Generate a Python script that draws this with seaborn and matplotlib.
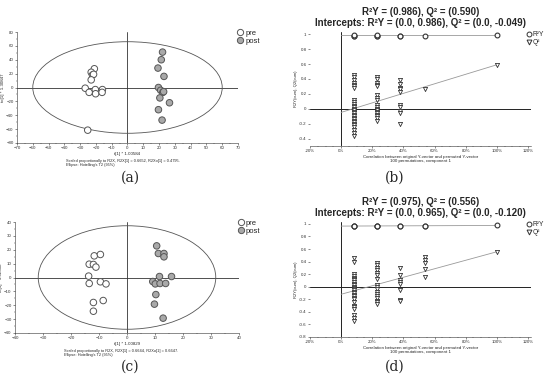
import numpy as np
import pandas as pd
import matplotlib
matplotlib.use("Agg")
import matplotlib.pyplot as plt
from matplotlib.patches import Ellipse
from matplotlib.lines import Line2D
from matplotlib.ticker import AutoMinorLocator, FuncFormatter
import seaborn as sns

# -----------------------------
# Data: OPLS-DA score plots
# -----------------------------
a_pre_x = [-21.0, -23.0, -22.2, -21.5, -23.0, -26.8, -24.3, -20.4, -20.2, -15.9, -16.1, -25.2]
a_pre_y = [27, 22, 18, 19, 11, -1, -7, -3, -9, -3, -7, -61.5]
a_post_x = [22.2, 21.4, 19.3, 23.1, 19.6, 21.0, 22.4, 22.9, 20.5, 26.6, 19.6, 21.9]
a_post_y = [51, 40, 28, 16, 0, -4, -7, -6, -15, -22, -32, -47]
a_ellipse = (60, 66)   # Hotelling T2 semi axes

c_pre_x = [-11.7, -9.5, -13.5, -12.0, -11.1, -13.7, -13.5, -9.5, -7.5, -12.0, -8.5, -12.0]
c_pre_y = [15.6, 16.6, 9.6, 9.4, 7.5, 1.0, -4.3, -3.1, -4.6, -18.0, -16.6, -24.3]
c_post_x = [10.6, 11.2, 13.2, 13.2, 11.6, 15.9, 9.2, 10.1, 11.8, 13.8, 10.3, 9.8, 12.9]
c_post_y = [22.8, 17.3, 17.3, 14.9, 0.7, 0.7, -2.9, -4.6, -4.3, -4.3, -12.3, -19.2, -29.3]
c_ellipse = (31.7, 37.3)

# -----------------------------
# Data: permutation tests
# -----------------------------
b_r2y = {0.08: [0.975, 0.98, 0.985], 0.23: [0.975, 0.98, 0.985], 0.38: [0.975, 0.98],
         0.54: [0.98], 1.0: [0.986]}
b_q2 = {0.08: [0.45, 0.42, 0.38, 0.35, 0.32, 0.30, 0.28, 0.12, 0.09, 0.06, 0.04, 0.02, 0.0,
               -0.02, -0.04, -0.06, -0.08, -0.10, -0.12, -0.14, -0.16, -0.18, -0.20, -0.22,
               -0.25, -0.28, -0.32, -0.37],
        0.23: [0.43, 0.40, 0.35, 0.32, 0.30, 0.18, 0.15, 0.12, 0.05, 0.02, 0.0, -0.02, -0.04,
               -0.06, -0.08, -0.10, -0.13, -0.17],
        0.38: [0.38, 0.33, 0.28, 0.26, 0.22, 0.05, 0.03, -0.03, -0.06, -0.20],
        0.54: [0.26], 1.0: [0.59]}
b_r2y_line = [0.986, 0.986]
b_q2_line = [-0.049, 0.590]
b_title = ["R²Y = (0.986), Q² = (0.590)",
           "Intercepts: R²Y = (0.0, 0.986), Q² = (0.0, -0.049)"]

d_r2y = {0.08: [0.96, 0.965, 0.97], 0.23: [0.96, 0.965, 0.97], 0.38: [0.965, 0.97],
         0.54: [0.96, 0.97], 1.0: [0.975]}
d_q2 = {0.08: [0.45, 0.40, 0.20, 0.17, 0.14, 0.12, 0.10, 0.08, 0.05, 0.03, 0.0, -0.02, -0.04,
               -0.06, -0.08, -0.10, -0.13, -0.15, -0.18, -0.20, -0.25, -0.30, -0.33, -0.36,
               -0.45, -0.50, -0.55],
        0.23: [0.38, 0.34, 0.30, 0.26, 0.22, 0.18, 0.12, 0.03, 0.0, -0.03, -0.08, -0.12, -0.15,
               -0.18, -0.22, -0.25, -0.27],
        0.38: [0.30, 0.18, 0.10, 0.07, 0.05, -0.05, -0.21, -0.23],
        0.54: [0.48, 0.43, 0.38, 0.28, 0.15], 1.0: [0.556]}
d_r2y_line = [0.965, 0.975]
d_q2_line = [-0.120, 0.556]
d_title = ["R²Y = (0.975), Q² = (0.556)",
           "Intercepts: R²Y = (0.0, 0.965), Q² = (0.0, -0.120)"]

sns.set_style("ticks")
plt.rcParams['font.family'] = ['Liberation Sans', 'DejaVu Sans']

W, H = 550, 381
fig = plt.figure(figsize=(5.5, 3.81), dpi=100)


def px_axes(left, top, right, bottom):
    return fig.add_axes([left / W, 1 - bottom / H, (right - left) / W, (bottom - top) / H])


def long_df(d):
    rows = [(x, v) for x, vals in d.items() for v in vals]
    return pd.DataFrame(rows, columns=["x", "y"])


def tick_style(ax):
    ax.tick_params(labelsize=3.2, length=1.5, width=0.4, pad=1, colors='#333333')
    ax.tick_params(which='minor', length=0.9, width=0.3)
    for s in ['left', 'bottom']:
        ax.spines[s].set_linewidth(0.4)
        ax.spines[s].set_color('#333333')
    sns.despine(ax=ax)


def score_panel(ax, pre_x, pre_y, post_x, post_y, ell, lim_x, lim_y, step_x, step_y,
                ylab, xlab, note):
    df = pd.DataFrame({
        "t": pre_x + post_x,
        "to": pre_y + post_y,
        "group": ["pre"] * len(pre_x) + ["post"] * len(post_x),
    })
    ax.axhline(0, color='#333333', lw=0.6, zorder=1)
    ax.axvline(0, color='#333333', lw=0.6, zorder=1)
    ax.add_patch(Ellipse((0, 0), 2 * ell[0], 2 * ell[1], fill=False, ec='#555555', lw=0.6, zorder=1))
    sns.scatterplot(data=df, x="t", y="to", hue="group",
                    palette={"pre": "white", "post": "#a9a9a9"},
                    edgecolor='#555555', linewidth=0.7, s=22, legend=False, ax=ax, zorder=3)
    ax.set_xlim(*lim_x)
    ax.set_ylim(*lim_y)
    ax.set_xticks(np.arange(lim_x[0], lim_x[1] + 0.1, step_x))
    ax.set_yticks(np.arange(lim_y[0], lim_y[1] + 0.1, step_y))
    ax.xaxis.set_minor_locator(AutoMinorLocator(2))
    ax.yaxis.set_minor_locator(AutoMinorLocator(2))
    ax.set_xlabel(xlab, fontsize=3.2, labelpad=1)
    ax.set_ylabel(ylab, fontsize=3.2, labelpad=1)
    tick_style(ax)
    ax.text(0.22, -0.14, note, transform=ax.transAxes, fontsize=2.8, va='top', ha='left',
            linespacing=1.3)
    handles = [Line2D([], [], marker='o', ls='', mfc='white', mec='#555555', mew=0.7, ms=4.5),
               Line2D([], [], marker='o', ls='', mfc='#a9a9a9', mec='#555555', mew=0.7, ms=4.5)]
    ax.legend(handles, ["pre", "post"], loc='upper left', bbox_to_anchor=(0.98, 1.05),
              frameon=False, fontsize=5.5, handletextpad=0.1, borderaxespad=0,
              labelspacing=0.1, handlelength=1.0)


def perm_panel(ax, r2y, q2, r2y_line, q2_line, ylim, yticks, title):
    r = long_df(r2y)
    q = long_df(q2)
    ax.axhline(0, color='#222222', lw=0.7, zorder=1)
    ax.axvline(0, color='#222222', lw=0.7, zorder=1)
    sns.lineplot(x=[0, 1], y=r2y_line, color='#999999', lw=0.6, ax=ax, zorder=2)
    sns.lineplot(x=[0, 1], y=q2_line, color='#999999', lw=0.6, ax=ax, zorder=2)
    sns.scatterplot(data=r, x="x", y="y", marker='o', color='white', edgecolor='#333333',
                    linewidth=0.8, s=12, ax=ax, zorder=3)
    sns.scatterplot(data=q, x="x", y="y", marker='v', color='white', edgecolor='#333333',
                    linewidth=0.6, s=9, ax=ax, zorder=3)
    ax.set_xlim(-0.2, 1.22)
    ax.set_ylim(*ylim)
    ax.set_xticks(np.arange(-0.2, 1.21, 0.2))
    ax.xaxis.set_major_formatter(FuncFormatter(lambda v, p: f"{v * 100:.0f}%"))
    ax.set_yticks(yticks)
    ax.yaxis.set_major_formatter(FuncFormatter(lambda v, p: f"{v:g}"))
    ax.xaxis.set_minor_locator(AutoMinorLocator(4))
    ax.set_xlabel("Correlation between original Y-vector and permuted Y-vector\n"
                  "100 permutations, component 1", fontsize=3.2, labelpad=1)
    ax.set_ylabel("R2Y(cum), Q2(cum)", fontsize=3.0, labelpad=1)
    tick_style(ax)
    ax.spines['left'].set_visible(False)
    ax.set_title(title[0] + "\n" + title[1], fontsize=7, fontweight='bold', pad=4,
                 linespacing=1.2)
    handles = [Line2D([], [], marker='o', ls='', mfc='white', mec='#333333', mew=0.7, ms=3.5),
               Line2D([], [], marker='v', ls='', mfc='white', mec='#333333', mew=0.7, ms=3.5)]
    ax.legend(handles, ["R²Y", "Q²"], loc='upper left', bbox_to_anchor=(0.965, 1.03),
              frameon=False, fontsize=4.8, handletextpad=0.1, borderaxespad=0,
              labelspacing=0.15, handlelength=0.9)


ax_a = px_axes(17, 32, 238, 143)
score_panel(ax_a, a_pre_x, a_pre_y, a_post_x, a_post_y, a_ellipse, (-70, 70), (-80, 80), 10, 20,
            "to[1] * 1.30847", "t[1] * 1.00584",
            "Scaled proportionally to R2X, R2X[1] = 0.6652, R2Xo[1] = 0.4795.\n"
            "Ellipse: Hotelling's T2 (95%)")

ax_c = px_axes(15, 222, 239, 333)
score_panel(ax_c, c_pre_x, c_pre_y, c_post_x, c_post_y, c_ellipse, (-40, 40), (-40, 40), 10, 10,
            "to[1] * 1.02388", "t[1] * 1.00829",
            "Scaled proportionally to R2X, R2X[1] = 0.6644, R2Xo[1] = 0.6647.\n"
            "Ellipse: Hotelling's T2 (95%)")

ax_b = px_axes(310, 32, 531, 146)
perm_panel(ax_b, b_r2y, b_q2, b_r2y_line, b_q2_line, (-0.5, 1.03),
           [-0.4, -0.2, 0, 0.2, 0.4, 0.6, 0.8, 1.0], b_title)

ax_d = px_axes(310, 222, 531, 337)
perm_panel(ax_d, d_r2y, d_q2, d_r2y_line, d_q2_line, (-0.8, 1.03),
           [-0.8, -0.6, -0.4, -0.2, 0, 0.2, 0.4, 0.6, 0.8, 1.0], d_title)

# panel captions
for lab, x, y in [("(a)", 130, 178), ("(b)", 395, 178), ("(c)", 130, 367), ("(d)", 395, 367)]:
    fig.text(x / W, 1 - y / H, lab, fontsize=10, family='DejaVu Serif', ha='center', va='center')

fig.savefig("out.png", dpi=100)
